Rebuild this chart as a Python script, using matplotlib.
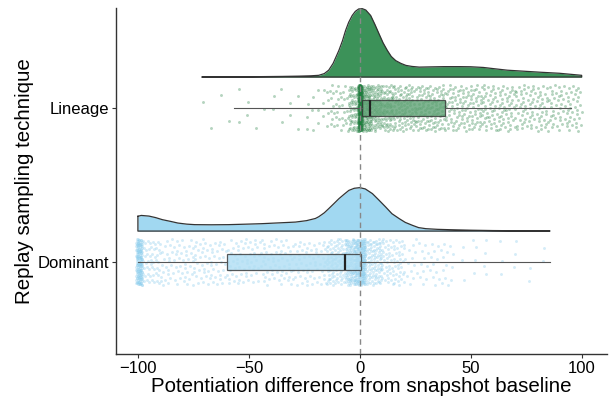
import numpy as np
import matplotlib
matplotlib.use("Agg")
import matplotlib.pyplot as plt

plt.rcParams['font.family'] = ['Liberation Sans', 'DejaVu Sans']

groups = ["Dominant", "Lineage"]

# density outlines (relative height, peak = 1)
lin_dens_x = [-71, -50, -35, -27.5, -22, -18.5, -16, -14, -12, -9.4, -7.8, -6.4, -5, -3.4,
              -2, -0.5, 1.1, 2.7, 4.9, 6.8, 8.7, 10.5, 12.4, 14.2, 16.2, 18.5, 20.8, 23.5,
              26.8, 31.3, 38, 45, 50, 55.7, 61, 66.5, 74, 81.5, 90, 100]
lin_dens_h = [0.0, 0.004, 0.009, 0.013, 0.018, 0.025, 0.05, 0.10, 0.20, 0.39, 0.53, 0.68,
              0.80, 0.90, 0.96, 0.995, 1.0, 0.98, 0.90, 0.77, 0.63, 0.50, 0.39, 0.30, 0.24,
              0.20, 0.17, 0.155, 0.145, 0.148, 0.152, 0.152, 0.15, 0.14, 0.12, 0.10, 0.085,
              0.07, 0.055, 0.025]
dom_dens_x = [-100, -98.5, -95, -92, -89, -85, -82, -78, -74.4, -67, -59.2, -52, -44.3,
              -36, -29, -24, -20, -18.5, -16, -14, -11.5, -9.4, -7, -4.9, -2.5, 0, 2.5,
              5.7, 8.5, 11.7, 14.5, 17.8, 20.5, 23.8, 26.5, 29.8, 35, 40.4, 50, 60, 70, 85.7]
dom_dens_h = [0.34, 0.36, 0.345, 0.31, 0.263, 0.22, 0.185, 0.16, 0.148, 0.145, 0.148,
              0.158, 0.17, 0.19, 0.207, 0.24, 0.29, 0.33, 0.42, 0.516, 0.64, 0.746, 0.85,
              0.937, 0.985, 1.0, 0.97, 0.862, 0.72, 0.553, 0.40, 0.286, 0.20, 0.131, 0.08,
              0.055, 0.04, 0.032, 0.02, 0.012, 0.008, 0.005]

# box statistics
lin_box = dict(whislo=-56.7, q1=0.8, med=4.5, q3=38.5, whishi=95.2)
dom_box = dict(whislo=-100, q1=-59.7, med=-6.5, q3=0.5, whishi=85.7)

# raw points: approximate counts per value range
lin_bin_lo = [-71, -55, -40, -25, -15, -5, -0.7, 1, 5, 10, 15, 25, 38.5, 55, 70, 85]
lin_bin_hi = [-55, -40, -25, -15, -5, -0.7, 1, 5, 10, 15, 25, 38.5, 55, 70, 85, 100]
lin_bin_n = [4, 6, 8, 12, 40, 60, 330, 110, 80, 60, 90, 110, 110, 90, 80, 70]
dom_bin_lo = [-100.8, -98, -90, -75, -60, -45, -30, -15, -6.5, -2.5, 0.5, 10, 20, 40, 60]
dom_bin_hi = [-98, -90, -75, -60, -45, -30, -15, -6.5, -2.5, 2.5, 10, 20, 40, 60, 86]
dom_bin_n = [150, 50, 60, 60, 60, 60, 60, 90, 100, 200, 130, 70, 45, 15, 10]

green = "#3c9259"
green_box = "#5ea274"
green_pt = "#1f7d3e"
blue = "#a1d8f1"
blue_box = "#afdef4"
blue_pt = "#86cbec"


def spread(lo, hi, n):
    # deterministic (R2 low-discrepancy) placement inside each value range
    xs, ys, k = [], [], 0
    for a, b, c in zip(lo, hi, n):
        for i in range(c):
            k += 1
            xs.append(a + (b - a) * ((0.5 + k * 0.7548776662) % 1.0))
            ys.append((0.5 + k * 0.5698402910) % 1.0 * 2 - 1)
    return np.array(xs), np.array(ys)


fig = plt.figure(figsize=(6.1, 4.01), dpi=100)
ax = fig.add_axes([0.1897, 0.1172, 0.8049, 0.8628])

layers = [
    (2, 0.444, lin_dens_x, lin_dens_h, lin_box, lin_bin_lo, lin_bin_hi, lin_bin_n,
     green, green_box, green_pt, 0.33),
    (1, 0.282, dom_dens_x, dom_dens_h, dom_box, dom_bin_lo, dom_bin_hi, dom_bin_n,
     blue, blue_box, blue_pt, 0.35),
]
for pos, scale, dx, dh, box, blo, bhi, bn, fc, bfc, pc, pa in layers:
    base = pos + 0.201
    top = base + scale * np.array(dh)
    ax.fill_between(dx, base, top, color=fc, lw=0, zorder=2)
    ax.plot(list(dx) + [dx[-1], dx[0], dx[0]],
            list(top) + [base, base, top[0]],
            color="#333333", lw=0.9, zorder=3, solid_joinstyle="round")

    xs, jit = spread(blo, bhi, bn)
    ax.scatter(xs, pos + 0.15 * jit, s=4.5, color=pc, alpha=pa, lw=0, zorder=1)

    st = dict(box, fliers=[])
    ax.bxp([st], positions=[pos], widths=0.102, orientation='horizontal',
           patch_artist=True, showcaps=False, showfliers=False,
           boxprops=dict(facecolor=bfc, edgecolor="#333333", lw=0.9, alpha=0.8),
           whiskerprops=dict(color="#555555", lw=0.8),
           medianprops=dict(color="#222222", lw=1.6), zorder=4)

ax.axvline(0, color="#888888", ls=(0, (4, 3)), lw=1, zorder=5)

ax.set_xlim(-110, 111.3)
ax.set_ylim(0.403, 2.649)
ax.set_xticks([-100, -50, 0, 50, 100])
ax.set_xticklabels(["\u2212100", "\u221250", "0", "50", "100"])
ax.set_yticks([1, 2])
ax.set_yticklabels(groups)
ax.tick_params(labelsize=12, length=3, color="#333333", width=0.8, pad=2)
for s in ["top", "right"]:
    ax.spines[s].set_visible(False)
for s in ["left", "bottom"]:
    ax.spines[s].set_color("#333333")
    ax.spines[s].set_linewidth(1)
ax.set_xlabel("Potentiation difference from snapshot baseline", fontsize=14.8, labelpad=1)
ax.set_ylabel("Replay sampling technique", fontsize=14.8, labelpad=2)

fig.savefig("out.png", dpi=100)
